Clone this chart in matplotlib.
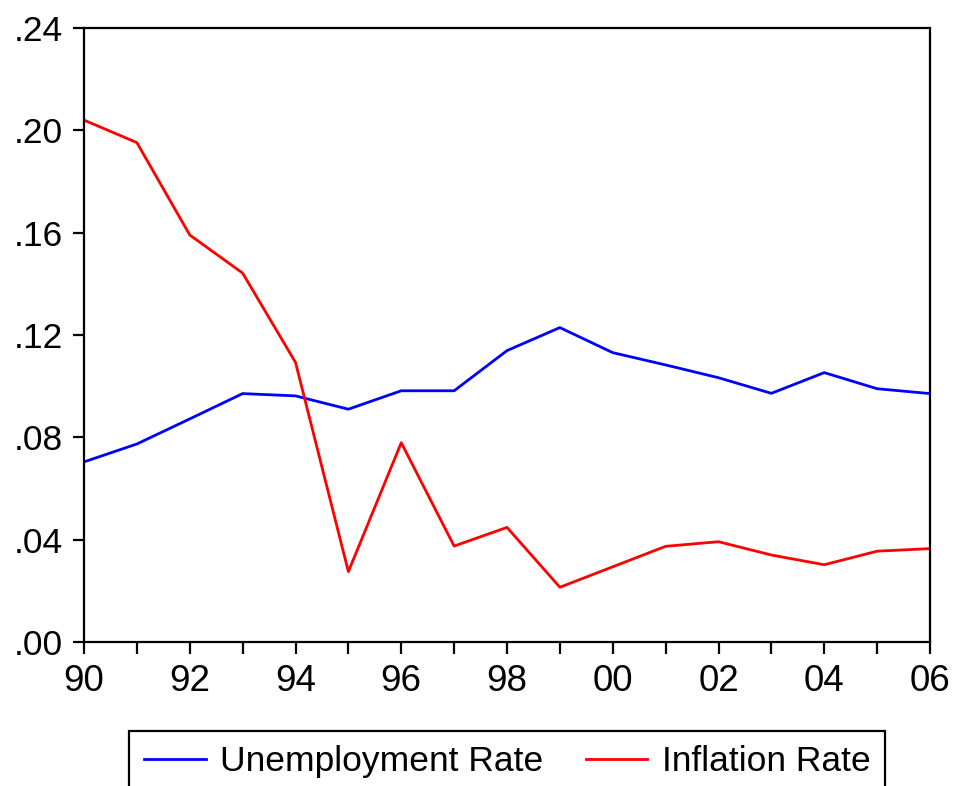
import numpy as np
import matplotlib
matplotlib.use("Agg")
import matplotlib.pyplot as plt
import matplotlib.ticker as ticker

plt.rcParams["font.family"] = ["Liberation Sans", "DejaVu Sans"]

years = list(range(1990, 2007))
unemployment = [0.0704, 0.0774, 0.0872, 0.0971, 0.0962, 0.0910, 0.0982, 0.0982,
                0.1139, 0.1229, 0.1131, 0.1083, 0.1033, 0.0972, 0.1053, 0.0990, 0.0971]
inflation = [0.2040, 0.1952, 0.1591, 0.1442, 0.1093, 0.0275, 0.0779, 0.0375,
             0.0448, 0.0214, 0.0294, 0.0374, 0.0392, 0.0340, 0.0302, 0.0355, 0.0365]
y_ticks = [0.00, 0.04, 0.08, 0.12, 0.16, 0.20, 0.24]

fig = plt.figure(figsize=(9.56, 7.86), dpi=100)
ax = fig.add_axes([84/956, 1-642/786, (930-84)/956, (642-28)/786])

ax.plot(years, unemployment, color="#0000ff", lw=2, label="Unemployment Rate")
ax.plot(years, inflation, color="#ff0000", lw=2, label="Inflation Rate")

ax.set_xlim(1990, 2006)
ax.set_ylim(0, 0.24)
ax.set_yticks(y_ticks)
ax.yaxis.set_major_formatter(ticker.FuncFormatter(lambda v, p: ("%.2f" % v)[1:]))
ax.xaxis.set_major_locator(ticker.MultipleLocator(2))
ax.xaxis.set_minor_locator(ticker.MultipleLocator(1))
ax.xaxis.set_major_formatter(ticker.FuncFormatter(lambda v, p: "%02d" % (int(round(v)) % 100)))

for s in ax.spines.values():
    s.set_linewidth(1.6)
ax.tick_params(axis="both", which="both", direction="out", width=1.6)
ax.tick_params(axis="x", which="both", length=8.5, pad=7, labelsize=26.5)
ax.tick_params(axis="y", length=8, pad=7, labelsize=25.5)

leg = fig.legend(loc="upper center", bbox_to_anchor=(507/956, 1-731/786), ncol=2,
                 fontsize=25.5, frameon=True, fancybox=False, edgecolor="black",
                 framealpha=1, handlelength=1.75, handletextpad=0.4, columnspacing=1.2,
                 borderpad=0.4, borderaxespad=0)
leg.get_frame().set_linewidth(1.6)
for line in leg.get_lines():
    line.set_linewidth(2)

plt.savefig("out.png", dpi=100)
